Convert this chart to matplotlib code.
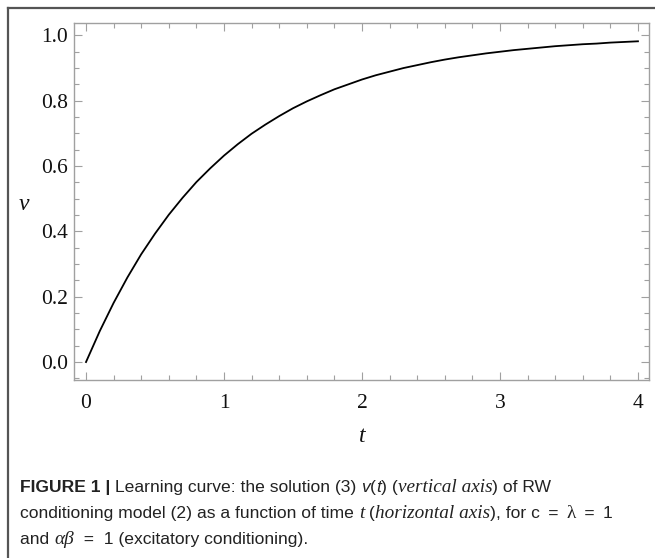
import matplotlib
matplotlib.use("Agg")
import matplotlib.pyplot as plt
from matplotlib.ticker import MultipleLocator

# Values
t_values = [0.0, 0.1, 0.2, 0.3, 0.4, 0.5, 0.6, 0.7, 0.8, 0.9,
            1.0, 1.1, 1.2, 1.3, 1.4, 1.5, 1.6, 1.7, 1.8, 1.9,
            2.0, 2.1, 2.2, 2.3, 2.4, 2.5, 2.6, 2.7, 2.8, 2.9,
            3.0, 3.1, 3.2, 3.3, 3.4, 3.5, 3.6, 3.7, 3.8, 3.9, 4.0]
v_values = [0.000, 0.095, 0.181, 0.259, 0.330, 0.393, 0.451, 0.503, 0.551, 0.593,
            0.632, 0.667, 0.699, 0.727, 0.753, 0.777, 0.798, 0.817, 0.835, 0.850,
            0.865, 0.878, 0.889, 0.900, 0.909, 0.918, 0.926, 0.933, 0.939, 0.945,
            0.950, 0.955, 0.959, 0.963, 0.967, 0.970, 0.973, 0.975, 0.978, 0.980, 0.982]
x_ticks = [0, 1, 2, 3, 4]
y_ticks = [0.0, 0.2, 0.4, 0.6, 0.8, 1.0]
y_tick_labels = ["0.0", "0.2", "0.4", "0.6", "0.8", "1.0"]

W, H = 655, 558
fig = plt.figure(figsize=(W / 100, H / 100), dpi=100)

# outer frame lines (top and left)
fig.add_artist(plt.Line2D([8 / W, 1.0], [1 - 8 / H, 1 - 8 / H], color="#555555", lw=1.6,
                          transform=fig.transFigure))
fig.add_artist(plt.Line2D([8 / W, 8 / W], [0.0, 1 - 8 / H], color="#555555", lw=1.6,
                          transform=fig.transFigure))

ax = fig.add_axes([74 / W, 1 - 380 / H, (649 - 74) / W, (380 - 23) / H])
ax.plot(t_values, v_values, color="black", lw=1.3)
ax.set_xlim(-0.087, 4.08)
ax.set_ylim(-0.055, 1.038)

frame_col = "#a0a0a0"
for s in ax.spines.values():
    s.set_color(frame_col)
    s.set_linewidth(1.0)

ax.set_xticks(x_ticks)
ax.set_xticklabels([str(x) for x in x_ticks])
ax.set_yticks(y_ticks)
ax.set_yticklabels(y_tick_labels)
ax.xaxis.set_minor_locator(MultipleLocator(0.2))
ax.yaxis.set_minor_locator(MultipleLocator(0.05))
ax.tick_params(which="both", direction="in", top=True, right=True, color=frame_col, width=0.8)
ax.tick_params(which="major", length=6)
ax.tick_params(which="minor", length=3.5)
ax.tick_params(axis="x", which="major", pad=10)
ax.tick_params(axis="y", which="major", pad=4.5)
for lab in ax.get_xticklabels() + ax.get_yticklabels():
    lab.set_fontfamily("Liberation Serif")
    lab.set_fontsize(15.5)
    lab.set_color("#111111")

fig.text(24 / W, 1 - 205 / H, "v", fontfamily="Liberation Serif", fontstyle="italic",
         fontsize=17, ha="center", va="center", color="#111111")
fig.text(362 / W, 1 - 437 / H, "t", fontfamily="Liberation Serif", fontstyle="italic",
         fontsize=17, ha="center", va="center", color="#111111")

# caption, drawn piece by piece
SANS = "Liberation Sans"
SERIF = "Liberation Serif"
cap_size = 12.6
lines = [
    [("FIGURE 1 | ", SANS, "normal", "bold"),
     ("Learning curve: the solution (3) ", SANS, "normal", "normal"),
     ("v", SANS, "italic", "normal"),
     ("(", SANS, "normal", "normal"),
     ("t", SANS, "italic", "normal"),
     (") (", SANS, "normal", "normal"),
     ("vertical axis", SERIF, "italic", "normal"),
     (") of RW", SANS, "normal", "normal")],
    [("conditioning model (2) as a function of time ", SANS, "normal", "normal"),
     ("t", SERIF, "italic", "normal"),
     (" (", SANS, "normal", "normal"),
     ("horizontal axis", SERIF, "italic", "normal"),
     ("), for c \u2009=\u2009 ", SANS, "normal", "normal"),
     ("\u03bb", SERIF, "normal", "normal"),
     (" \u2009=\u2009 1", SANS, "normal", "normal")],
    [("and ", SANS, "normal", "normal"),
     ("\u03b1\u03b2", SERIF, "italic", "normal"),
     ("  =  1 (excitatory conditioning).", SANS, "normal", "normal")],
]
line_y = [492, 518, 544]
renderer = fig.canvas.get_renderer()
for pieces, yy in zip(lines, line_y):
    x = 20.0
    for txt, fam, sty, wt in pieces:
        size = cap_size + (1.3 if fam == SERIF else 0)
        tobj = fig.text(x / W, 1 - yy / H, txt, fontfamily=fam, fontstyle=sty, fontweight=wt,
                        fontsize=size, ha="left", va="baseline", color="#222222")
        bb = tobj.get_window_extent(renderer=renderer)
        x += bb.width

fig.savefig("out.png", dpi=100)
